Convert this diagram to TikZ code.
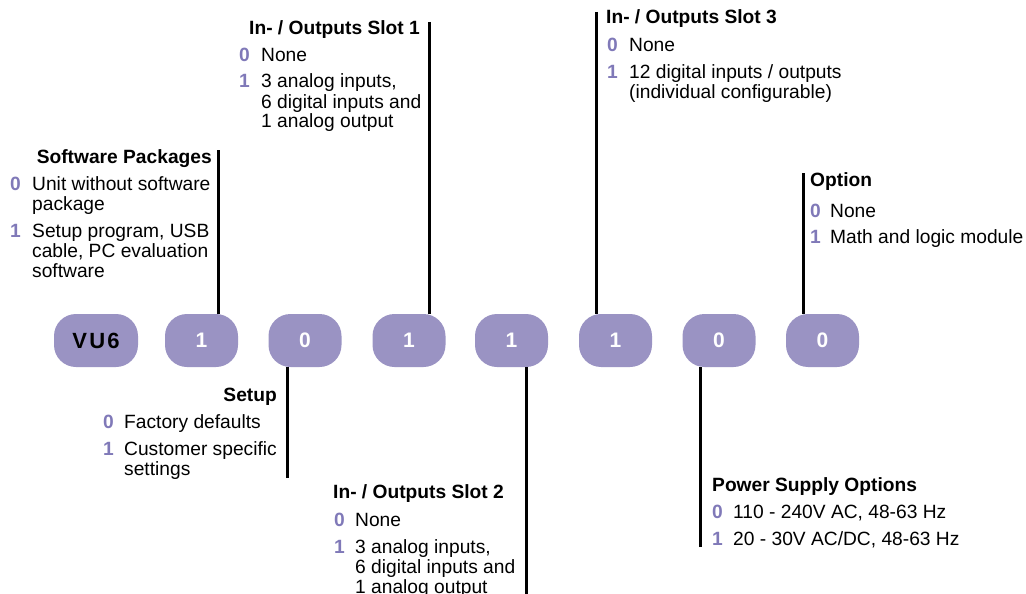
\documentclass[tikz,border=0pt]{standalone}
\usepackage{fontspec}
\setmainfont{Liberation Sans}
\usetikzlibrary{positioning}
\definecolor{VuPill}{HTML}{9A93C3}
\definecolor{VuDigit}{HTML}{8079B8}
\tikzset{pill/.style={fill=VuPill,rounded corners=22pt,minimum width=73pt,minimum height=53pt,
inner sep=0pt,text=white,font=\bfseries\fontsize{21}{22}\selectfont},
head/.style={inner sep=0pt,font=\bfseries\fontsize{19.2}{20}\selectfont},
num/.style={inner sep=0pt,anchor=base west,text=VuDigit,font=\bfseries\fontsize{19.2}{20}\selectfont},
txt/.style={inner sep=0pt,anchor=base west,align=left,font=\fontsize{19.2}{20}\selectfont},
lead/.style={line width=3pt,draw=black}}

\begin{document}
\begin{tikzpicture}[x=1pt,y=-1pt]
\useasboundingbox (0,0) rectangle (1026,594);
% code blocks
\node[pill,minimum width=84pt,text=black] (vu) at (96,340.5) {\fontsize{22}{22}\selectfont\addfontfeatures{LetterSpace=10}VU6};
\node[pill] (p1) at (201.5,340.5) {1};
\node[pill] (p2) at (305,340.5) {0};
\node[pill] (p3) at (409,340.5) {1};
\node[pill] (p4) at (511.5,340.5) {1};
\node[pill] (p5) at (615.5,340.5) {1};
\node[pill] (p6) at (719,340.5) {0};
\node[pill] (p7) at (822.5,340.5) {0};
% leader lines
\coordinate (swend) at (218,150);
\coordinate (setend) at (287,478);
\coordinate (ioaend) at (429,22);
\coordinate (iobend) at (526,594);
\coordinate (iocend) at (596,12);
\coordinate (pwrend) at (700,547);
\coordinate (optend) at (803,173);
\draw[lead](swend)--(swend|-p1.north);
\draw[lead](setend)--(setend|-p2.south);
\draw[lead](ioaend)--(ioaend|-p3.north);
\draw[lead](iobend)--(iobend|-p4.south);
\draw[lead](iocend)--(iocend|-p5.north);
\draw[lead](pwrend)--(pwrend|-p6.south);
\draw[lead](optend)--(optend|-p7.north);
% Software Packages (multi-line texts sit on their last baseline)
\node[head,anchor=base east] (swhead) at (212,163) {Software Packages};
\node[num] (swn0) at (10,190) {0};
\node[txt] (swt0) at (32,210) {Unit without software\\package};
\node[num] (swn1) at (10,237) {1};
\node[txt] (swt1) at (32,277) {Setup program, USB\\cable, PC evaluation\\software};
% Setup
\node[head,anchor=base east] (sethead) at (277,401) {Setup};
\node[num] (setn0) at (103,428) {0};
\node[txt] (sett0) at (124,428) {Factory defaults};
\node[num] (setn1) at (103,455) {1};
\node[txt] (sett1) at (124,475) {Customer specific\\settings};
% In- / Outputs Slot 1
\node[head,anchor=base west] (ioahead) at (249,35) {In- / Outputs Slot 1};
\node[num] (ioan0) at (239,62) {0};
\node[txt] (ioat0) at (261,62) {None};
\node[num] (ioan1) at (239,88) {1};
\node[txt] (ioat1) at (261,128) {3 analog inputs,\\6 digital inputs and\\1 analog output};
% In- / Outputs Slot 2
\node[head,anchor=base west] (iobhead) at (333,498) {In- / Outputs Slot 2};
\node[num] (iobn0) at (334,526) {0};
\node[txt] (iobt0) at (355,526) {None};
\node[num] (iobn1) at (334,553) {1};
\node[txt] (iobt1) at (355,593) {3 analog inputs,\\6 digital inputs and\\1 analog output};
% In- / Outputs Slot 3
\node[head,anchor=base west] (iochead) at (606,24) {In- / Outputs Slot 3};
\node[num] (iocn0) at (607,52) {0};
\node[txt] (ioct0) at (629,52) {None};
\node[num] (iocn1) at (607,79) {1};
\node[txt] (ioct1) at (629,99) {12 digital inputs / outputs\\(individual configurable)};
% Power Supply Options
\node[head,anchor=base west] (pwrhead) at (712,491) {Power Supply Options};
\node[num] (pwrn0) at (712,518) {0};
\node[txt] (pwrt0) at (733,518) {110 - 240V AC, 48-63 Hz};
\node[num] (pwrn1) at (712,545) {1};
\node[txt] (pwrt1) at (733,545) {20 - 30V AC/DC, 48-63 Hz};
% Option
\node[head,anchor=base west] (opthead) at (810,186) {Option};
\node[num] (optn0) at (810,217) {0};
\node[txt] (optt0) at (830,217) {None};
\node[num] (optn1) at (810,243) {1};
\node[txt] (optt1) at (830,243) {Math and logic module};
\end{tikzpicture}
\end{document}
